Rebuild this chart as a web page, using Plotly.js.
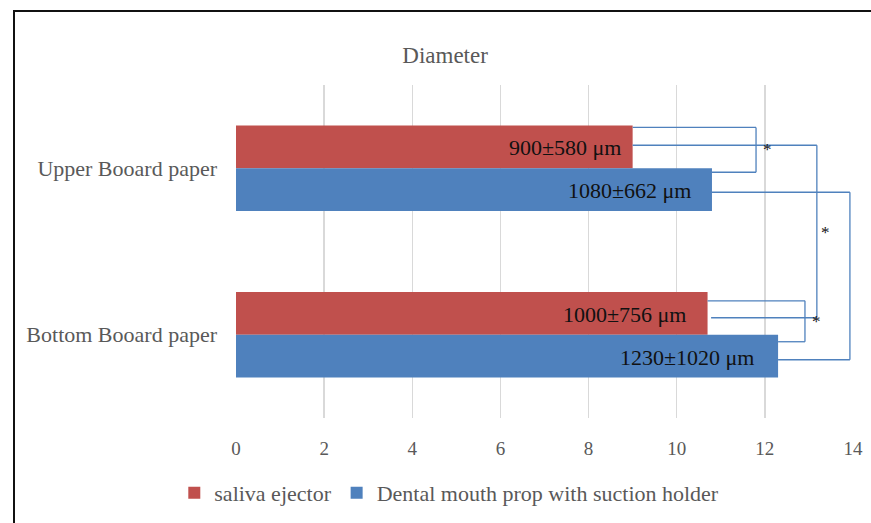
<!DOCTYPE html>
<html>
<head>
<meta charset="utf-8">
<script src="https://cdn.plot.ly/plotly-3.0.1.min.js"></script>
<style>
  html, body { margin: 0; padding: 0; background: #fff; }
  #wrap { position: relative; width: 871px; height: 523px; overflow: hidden; }
  #chart { position: absolute; left: 0; top: 0; width: 871px; height: 523px; }
  #frame { position: absolute; left: 13px; top: 10px; width: 900px; height: 600px;
           border-left: 2.5px solid #111; border-top: 2.5px solid #111; pointer-events: none; }
</style>
</head>
<body>
<div id="wrap"><div id="chart"></div><div id="frame"></div></div>
<script>
// ---- data ----
const categories = ['Upper Booard paper', 'Bottom Booard paper'];
const seriesNames = ['saliva ejector', 'Dental mouth prop with suction holder'];
const salivaEjector = [9.0, 10.7];
const mouthProp = [10.8, 12.3];
const salivaLabels = ['900±580 μm', '1000±756 μm'];
const mouthPropLabels = ['1080±662 μm', '1230±1020 μm'];
const xTicks = [0, 2, 4, 6, 8, 10, 12, 14];

// ---- styles ----
const RED = '#c0504d', BLUE = '#4f81bd', LINE = '#4f81bd';
const FONT = 'Liberation Serif, Times New Roman, serif';
const GREY = '#595959';
const OFF = 0.129; // bar centre offset from category centre (index units)

const traces = [
  { type: 'bar', orientation: 'h', name: seriesNames[0], y: categories, x: salivaEjector,
    marker: { color: RED }, hoverinfo: 'x' },
  { type: 'bar', orientation: 'h', name: seriesNames[1], y: categories, x: mouthProp,
    marker: { color: BLUE }, hoverinfo: 'x' }
];

// value labels inside the bar ends
const labelShift = [[-10, -20], [-19, -22]];
const annotations = [];
categories.forEach((c, i) => {
  annotations.push({ x: salivaEjector[i], y: i - OFF, xref: 'x', yref: 'y', text: salivaLabels[i],
    showarrow: false, xanchor: 'right', xshift: labelShift[0][i], yshift: -1, font: { family: FONT, size: 22, color: '#111' } });
  annotations.push({ x: mouthProp[i], y: i + OFF, xref: 'x', yref: 'y', text: mouthPropLabels[i],
    showarrow: false, xanchor: 'right', xshift: labelShift[1][i], yshift: -1, font: { family: FONT, size: 22, color: '#111' } });
});

// significance brackets (x ends taken from bar values)
const shapes = [];
function seg(x0, y0, x1, y1) {
  shapes.push({ type: 'line', xref: 'x', yref: 'y', x0, y0, x1, y1,
    line: { color: LINE, width: 1.3 } });
}
function bracket(xa, ya, xv, yb, xb) {
  seg(xa, ya, xv, ya); seg(xv, ya, xv, yb); seg(xv, yb, xb, yb);
}
bracket(salivaEjector[0], -0.245, 11.8, 0.024, mouthProp[0]);
bracket(salivaEjector[0], -0.138, 13.18, 0.898, 10.78);
bracket(salivaEjector[1], 0.796, 12.91, 1.042, mouthProp[1]);
bracket(mouthProp[0], 0.144, 13.93, 1.15, mouthProp[1]);

const stars = [[12.07, -0.138], [13.37, 0.359], [13.18, 0.898], [14.18, 0.635]];
stars.forEach(s => annotations.push({ x: s[0], y: s[1], xref: 'x', yref: 'y', text: '*',
  showarrow: false, yshift: -4, font: { family: FONT, size: 17, color: '#111' } }));

const layout = {
  width: 871, height: 523,
  margin: { l: 236, r: 18, t: 85, b: 105, autoexpand: false },
  paper_bgcolor: '#fff', plot_bgcolor: '#fff',
  title: { text: 'Diameter', x: 0.511, xanchor: 'center', y: 0.895, yanchor: 'middle',
    font: { family: FONT, size: 23, color: GREY } },
  barmode: 'group', bargap: 0.485, bargroupgap: 0,
  xaxis: { range: [0, 14], tickvals: xTicks, ticktext: xTicks.map(String), showgrid: true,
    gridcolor: '#d9d9d9', gridwidth: 1.5, zeroline: false, showline: false, ticks: '',
    ticklabelstandoff: 17, tickfont: { family: FONT, size: 19, color: GREY }, fixedrange: true },
  yaxis: { autorange: 'reversed', type: 'category', showgrid: false, zeroline: false, showline: false,
    ticks: '', ticklabelstandoff: 18, tickfont: { family: FONT, size: 22, color: GREY }, fixedrange: true },
  showlegend: true,
  legend: { orientation: 'h', x: -0.100, xanchor: 'left', y: -0.225, yanchor: 'middle',
    font: { family: FONT, size: 22, color: GREY }, traceorder: 'normal', itemwidth: 30 },
  shapes, annotations
};

Plotly.newPlot('chart', traces, layout, { displayModeBar: false, staticPlot: true });
</script>
</body>
</html>
